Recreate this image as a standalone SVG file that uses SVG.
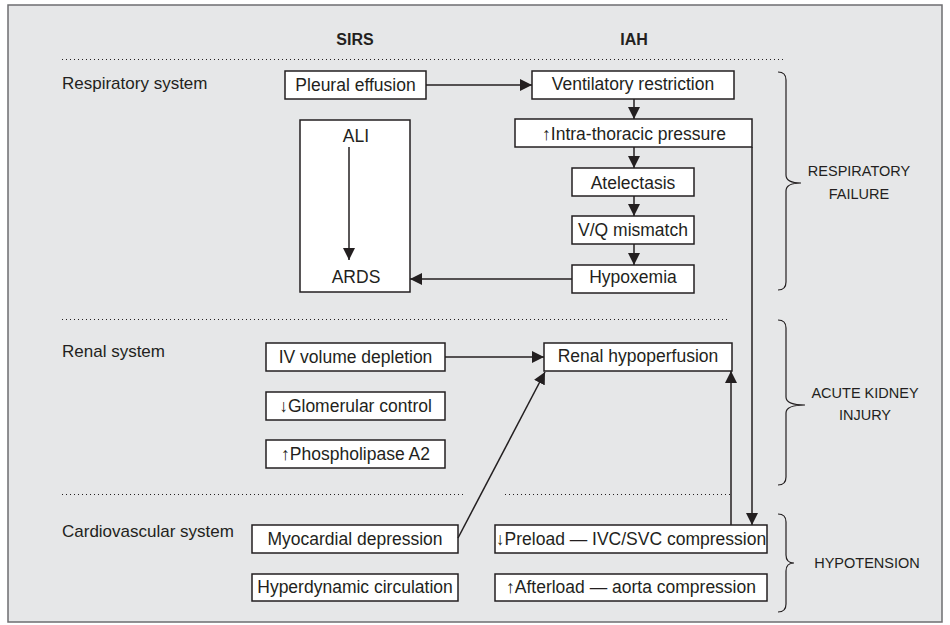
<svg xmlns="http://www.w3.org/2000/svg" width="950" height="625" viewBox="0 0 950 625">
<defs>
<style>
.t{font-family:"Liberation Sans",Arial,sans-serif;font-size:17.5px;fill:#231f20;text-anchor:middle}
.l{font-family:"Liberation Sans",Arial,sans-serif;font-size:17px;fill:#231f20}
.h{font-family:"Liberation Sans",Arial,sans-serif;font-size:16px;font-weight:bold;fill:#231f20;text-anchor:middle}
.b{font-family:"Liberation Sans",Arial,sans-serif;font-size:14.5px;fill:#231f20;text-anchor:middle}
.box{fill:#fff;stroke:#231f20;stroke-width:1.5}
.dot{stroke:#231f20;stroke-width:1;stroke-dasharray:1 3;fill:none}
.c{stroke:#231f20;stroke-width:1.5;fill:none}
.br{stroke:#231f20;stroke-width:1.2;fill:none}
</style>
<marker id="ah" viewBox="0 0 12 12" refX="12" refY="6" markerWidth="12" markerHeight="12" markerUnits="userSpaceOnUse" orient="auto">
<path d="M0,0 L12,6 L0,12 Z" fill="#231f20"/>
</marker>
</defs>
<rect x="8" y="5" width="934" height="617" fill="#e6e7e8" stroke="#6d6e70" stroke-width="1.5"/>

<g id="headers">
<text class="h" x="355" y="45">SIRS</text>
<text class="h" x="634" y="45">IAH</text>
</g>

<g id="dividers">
<line class="dot" x1="62" y1="59.5" x2="783" y2="59.5"/>
<line class="dot" x1="62" y1="319.5" x2="730" y2="319.5"/>
<line class="dot" x1="62" y1="494.5" x2="463" y2="494.5"/>
<line class="dot" x1="505" y1="494.5" x2="730" y2="494.5"/>
</g>

<g id="row-labels">
<text class="l" x="62" y="89">Respiratory system</text>
<text class="l" x="62" y="357">Renal system</text>
<text class="l" x="62" y="537">Cardiovascular system</text>
</g>

<g id="pleural"><rect class="box" x="285" y="71" width="141" height="28"/><text class="t" x="355.5" y="91">Pleural effusion</text></g>
<g id="ventilatory"><rect class="box" x="532" y="71" width="202" height="28"/><text class="t" x="633" y="90">Ventilatory restriction</text></g>
<g id="intrathoracic"><rect class="box" x="515" y="119" width="237" height="28"/><text class="t" x="634" y="140">↑Intra-thoracic pressure</text></g>
<g id="atelectasis"><rect class="box" x="572" y="168" width="122" height="28"/><text class="t" x="633" y="189">Atelectasis</text></g>
<g id="vq"><rect class="box" x="572" y="216" width="122" height="28"/><text class="t" x="633" y="236">V/Q mismatch</text></g>
<g id="hypoxemia"><rect class="box" x="572" y="265" width="122" height="28"/><text class="t" x="633" y="283">Hypoxemia</text></g>
<g id="ali-ards"><rect class="box" x="300" y="120" width="110" height="172"/><text class="t" x="356" y="142">ALI</text><text class="t" x="356" y="283">ARDS</text></g>

<g id="ivvolume"><rect class="box" x="266" y="343" width="179" height="28"/><text class="t" x="355.5" y="363">IV volume depletion</text></g>
<g id="glomerular"><rect class="box" x="266" y="392" width="179" height="28"/><text class="t" x="355.5" y="412">↓Glomerular control</text></g>
<g id="phospholipase"><rect class="box" x="266" y="440" width="179" height="28"/><text class="t" x="355.5" y="460">↑Phospholipase A2</text></g>
<g id="renal"><rect class="box" x="544" y="343" width="188" height="28"/><text class="t" x="638" y="362">Renal hypoperfusion</text></g>

<g id="myocardial"><rect class="box" x="252" y="525" width="206" height="28"/><text class="t" x="355" y="545">Myocardial depression</text></g>
<g id="hyperdynamic"><rect class="box" x="252" y="574" width="206" height="27"/><text class="t" x="355" y="593">Hyperdynamic circulation</text></g>
<g id="preload"><rect class="box" x="495" y="525" width="272" height="28"/><text class="t" x="631" y="545">↓Preload — IVC/SVC compression</text></g>
<g id="afterload"><rect class="box" x="495" y="574" width="272" height="27"/><text class="t" x="631" y="593">↑Afterload — aorta compression</text></g>

<g id="connectors">
<line class="c" x1="426" y1="85" x2="532" y2="85" marker-end="url(#ah)"/>
<line class="c" x1="634" y1="99" x2="634" y2="119" marker-end="url(#ah)"/>
<line class="c" x1="634" y1="147" x2="634" y2="168" marker-end="url(#ah)"/>
<line class="c" x1="634" y1="196" x2="634" y2="216" marker-end="url(#ah)"/>
<line class="c" x1="634" y1="244" x2="634" y2="265" marker-end="url(#ah)"/>
<line class="c" x1="349" y1="147" x2="349" y2="260" marker-end="url(#ah)"/>
<line class="c" x1="572" y1="279" x2="410" y2="279" marker-end="url(#ah)"/>
<line class="c" x1="752" y1="147" x2="752" y2="525" marker-end="url(#ah)"/>
<line class="c" x1="445" y1="357" x2="544" y2="357" marker-end="url(#ah)"/>
<line class="c" x1="458" y1="538" x2="545" y2="372" marker-end="url(#ah)"/>
<line class="c" x1="731" y1="525" x2="731" y2="371" marker-end="url(#ah)"/>
</g>

<g id="brace-respiratory">
<path class="br" d="M778,72 Q786,72 786,80 L786,175 Q786,183 801,183 Q786,183 786,191 L786,282 Q786,290 778,290"/>
<text class="b" x="859" y="176">RESPIRATORY</text>
<text class="b" x="859" y="199">FAILURE</text>
</g>
<g id="brace-kidney">
<path class="br" d="M778,320 Q786,320 786,328 L786,397 Q786,405 805,405 Q786,405 786,413 L786,477 Q786,485 778,485"/>
<text class="b" x="865" y="398">ACUTE KIDNEY</text>
<text class="b" x="865" y="420">INJURY</text>
</g>
<g id="brace-hypotension">
<path class="br" d="M778,514 Q786,514 786,522 L786,555 Q786,563 794,563 Q786,563 786,571 L786,604 Q786,612 778,612"/>
<text class="b" x="867" y="568">HYPOTENSION</text>
</g>
</svg>
